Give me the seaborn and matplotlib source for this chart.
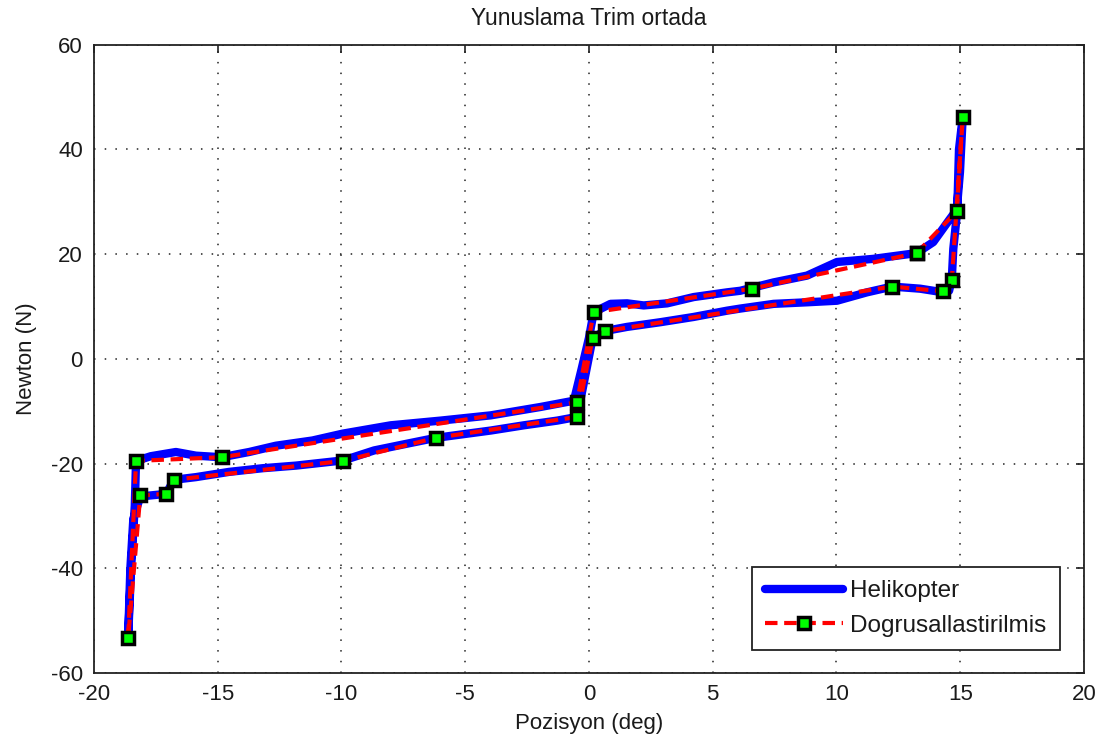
import numpy as np
import pandas as pd
import seaborn as sns
import matplotlib.pyplot as plt

# Helikopter olcumu (yol sirasiyla, grafikten okunan noktalar)
heli_x = [13.24, 13.91, 14.55, 14.86, 14.99, 15.10, 14.95, 14.88, 14.72, 14.66, 14.55, 14.32,
          13.38, 12.25, 11.23, 10.02, 8.81, 7.46, 6.11, 5.58, 4.23, 2.89, 1.54, 0.63, 0.15,
          -0.10, -0.35, -0.48, -1.28, -2.63, -3.97, -4.92, -6.19, -7.34, -8.68, -9.92, -11.84,
          -13.19, -14.54, -15.88, -16.76, -17.09, -18.13, -18.41, -18.53, -18.62, -18.50, -18.35,
          -18.30, -17.70, -16.69, -15.88, -14.84, -13.73, -12.65, -11.17, -9.96, -8.01, -5.99,
          -3.97, -1.96, -0.61, -0.30, 0.00, 0.19, 0.87, 1.54, 2.21, 3.16, 4.23, 5.58, 6.11,
          7.46, 8.81, 10.02, 11.49, 13.24]
heli_y = [20.2, 22.3, 26.5, 28.5, 35.7, 46.2, 40.0, 28.3, 21.0, 15.3, 13.0, 12.7,
          13.4, 13.8, 12.7, 11.1, 10.8, 10.5, 9.6, 9.2, 8.0, 7.0, 6.1, 5.3, 4.0,
          -2.0, -8.0, -11.1, -11.8, -12.7, -13.7, -14.3, -15.1, -16.2, -17.5, -19.4, -20.4,
          -20.9, -21.6, -22.6, -23.1, -25.8, -26.3, -30.6, -40.1, -53.3, -40.0, -28.0,
          -19.5, -18.6, -17.8, -18.5, -18.8, -17.8, -16.6, -15.6, -14.3, -12.7, -11.8,
          -10.8, -9.2, -8.0, -2.0, 4.0, 8.9, 10.5, 10.6, 10.2, 10.6, 11.8, 12.7, 13.0,
          14.6, 15.9, 18.5, 19.1, 20.2]

# Dogrusallastirilmis (kirilma noktalari)
lin_x = [13.24, 14.86, 15.10, 14.66, 14.32, 12.25, 0.63, 0.15, -0.48, -6.19, -9.92, -16.76,
         -17.09, -18.13, -18.62, -18.30, -14.84, -0.48, 0.19, 6.59, 13.24]
lin_y = [20.2, 28.2, 46.2, 15.0, 12.9, 13.8, 5.3, 4.0, -11.1, -15.1, -19.5, -23.1,
         -25.8, -26.1, -53.3, -19.5, -18.8, -8.3, 8.9, 13.4, 20.2]

x_ticks = [-20, -15, -10, -5, 0, 5, 10, 15, 20]
y_ticks = [-60, -40, -20, 0, 20, 40, 60]

heli = pd.DataFrame({"x": heli_x, "y": heli_y})
lin = pd.DataFrame({"x": lin_x, "y": lin_y})

sns.set_theme(style="white")
plt.rcParams["font.family"] = ["Liberation Sans", "DejaVu Sans"]
plt.rcParams["axes.unicode_minus"] = False
txt = "#1a1a1a"

fig = plt.figure(figsize=(11.12, 7.46), dpi=100)
ax = fig.add_axes([0.0845, 0.098, 0.8903, 0.842])

sns.lineplot(data=heli, x="x", y="y", sort=False, estimator=None, ax=ax,
             color="#0000ff", linewidth=6, label="Helikopter")
sns.lineplot(data=lin, x="x", y="y", sort=False, estimator=None, ax=ax,
             color="#ff0000", linewidth=3, linestyle=(0, (3, 1.6)),
             marker="s", markersize=9, markerfacecolor="#00ff00",
             markeredgecolor="black", markeredgewidth=2.5,
             label="Dogrusallastirilmis")

ax.set_xlim(-20, 20)
ax.set_ylim(-60, 60)
ax.set_xticks(x_ticks)
ax.set_yticks(y_ticks)
ax.grid(True, color="#222222", linestyle=(0, (1, 6)), linewidth=1.1)
for s in ax.spines.values():
    s.set_visible(True)
    s.set_color("#222222")
    s.set_linewidth(1.3)
ax.tick_params(direction="in", top=True, right=True, length=6, width=1.2,
               colors="#222222", labelcolor=txt, labelsize=16, pad=8)

ax.set_title("Yunuslama Trim ortada", fontsize=16.5, color=txt, pad=14)
ax.set_xlabel("Pozisyon (deg)", fontsize=16, color=txt, labelpad=6)
ax.set_ylabel("Newton (N)", fontsize=16, color=txt, labelpad=10)

leg = ax.legend(loc="lower right", bbox_to_anchor=(0.9758, 0.0366), borderaxespad=0,
                fontsize=17.5, frameon=True, fancybox=False, framealpha=1,
                edgecolor="#222222", handlelength=3.2, handletextpad=0.3,
                labelspacing=0.5, borderpad=0.55)
leg.get_frame().set_linewidth(1.3)
for t in leg.get_texts():
    t.set_color(txt)

fig.savefig("out.png", dpi=100)
